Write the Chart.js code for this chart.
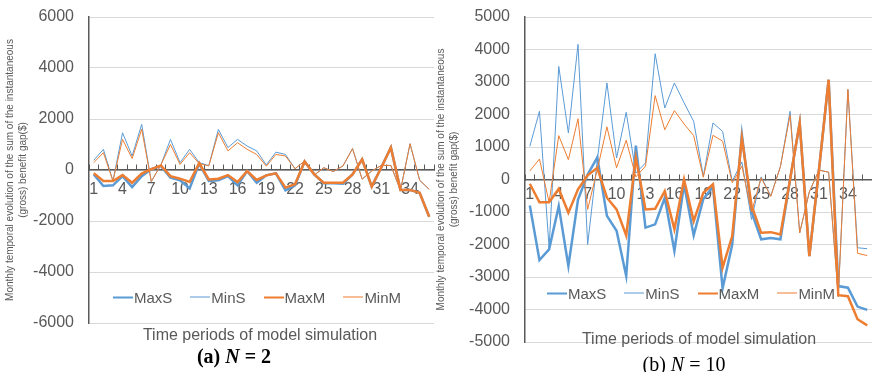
<!DOCTYPE html>
<html>
<head>
<meta charset="utf-8">
<script src="https://cdn.jsdelivr.net/npm/chart.js@4.4.1/dist/chart.umd.min.js"></script>
<style>
    html, body { margin: 0; padding: 0; background: #fff; }
    #wrap { position: relative; width: 872px; height: 372px; overflow: hidden; font-family: "Liberation Sans", Arial, sans-serif; }
    canvas { position: absolute; top: 0; }
    #chartA { left: 0; }
    #chartB { left: 430px; }
    .txt { position: absolute; white-space: nowrap; line-height: 1; transform: translate(-50%, -50%); color: #595959; }
    .xtitle { font-size: 16px; }
    .caption { font-family: "Liberation Serif", "Times New Roman", serif; font-size: 20px; color: #000; }
    .legend { position: absolute; display: flex; align-items: center; font-size: 15px; color: #595959; transform: translateY(-50%); }
    .legend .item { display: flex; align-items: center; margin-right: 18px; }
    .legend .swatch { width: 20px; margin-right: 1px; }
</style>
</head>
<body>
<div id="wrap">
    <canvas id="chartA" width="440" height="372"></canvas>
    <canvas id="chartB" width="442" height="372"></canvas>

    <div class="txt xtitle" style="left:260px; top:335px;">Time periods of model simulation</div>
    <div class="txt xtitle" style="left:699px; top:339px;">Time periods of model simulation</div>

    <div class="txt caption" style="left:234px; top:356px;"><b>(a) <i>N</i> = 2</b></div>
    <div class="txt caption" style="left:684px; top:364px;">(b) <i>N</i> = 10</div>

    <div class="legend" id="legendA" style="left:113px; top:297px;"></div>
    <div class="legend" id="legendB" style="left:547px; top:293px;"></div>
</div>

<script>
// periodos de simulacion (eje x)
const periods = ['1', '2', '3', '4', '5', '6', '7', '8', '9', '10', '11', '12',
    '13', '14', '15', '16', '17', '18', '19', '20', '21', '22', '23', '24',
    '25', '26', '27', '28', '29', '30', '31', '32', '33', '34', '35', '36'];

const seriesNames = ['MaxS', 'MinS', 'MaxM', 'MinM'];

// (a) N = 2
const maxS_A = [-170, -630, -600, -240, -670, -240, 30, 160, -300, -400, -720, 250,
    -430, -400, -240, -600, -40, -500, -210, -130, -800, -600, 330, -170,
    -520, -520, -540, -170, 420, -650, 100, 880, -780, -780, -890, -1830];
const minS_A = [380, 810, -430, 1460, 550, 1790, -450, 200, 1200, 290, 810, 290,
    170, 1590, 880, 1200, 940, 750, 200, 700, 610, 50, 350, -200,
    90, -60, 160, 840, -360, -40, 180, 180, -800, 1030, -400, -760];
const maxM_A = [-130, -430, -430, -200, -500, -140, 30, 180, -240, -340, -470, 270,
    -370, -340, -200, -470, -40, -390, -210, -130, -690, -560, 330, -170,
    -500, -500, -500, -170, 420, -650, 100, 880, -780, -780, -890, -1830];
const minM_A = [290, 680, -430, 1200, 450, 1600, -450, 200, 1000, 220, 680, 250,
    160, 1460, 750, 1070, 810, 610, 150, 610, 550, 50, 350, -200,
    90, -60, 160, 840, -360, -40, 180, 180, -800, 1030, -400, -760];

// (b) N = 10
const maxS_B = [-800, -2480, -2150, -820, -2660, -620, 150, 680, -1120, -1580, -2970, 1040,
    -1480, -1380, -560, -2200, -150, -1720, -600, -220, -3350, -2000, 1380, -1000,
    -1840, -1800, -1840, 0, 1740, -2360, 300, 3070, -3280, -3330, -3910, -4010];
const minS_B = [1020, 2100, -2100, 3480, 1430, 4160, -2000, 600, 2970, 660, 2070, 200,
    510, 3870, 2200, 2970, 2360, 1790, 100, 1740, 1480, -50, 540, -1230,
    80, -500, 400, 2100, -1640, -380, 290, 225, -3600, 2770, -2100, -2130];
const maxM_B = [-130, -700, -700, -290, -1020, -300, 130, 360, -560, -920, -1720, 670,
    -920, -900, -360, -1530, 0, -1280, -410, -150, -2710, -1740, 1280, -800,
    -1640, -1620, -1690, 0, 1740, -2360, 300, 3070, -3560, -3590, -4300, -4490];
const minM_B = [260, 630, -700, 1350, 610, 1870, -920, 300, 1620, 360, 1210, 80,
    410, 2580, 1530, 2120, 1710, 1350, 70, 1360, 1180, -100, 410, -1000,
    50, -520, 400, 1980, -1640, -380, 290, 225, -3600, 2770, -2270, -2340];

const yTitle = ['Monthly temporal evolution of the sum of the instantaneous', '(gross) benefit gap($)'];

// estilos por serie (mismo orden que seriesNames)
const lineStyles = [
    { color: '#5b9bd5', width: 2.5, order: 4 },
    { color: '#5b9bd5', width: 1, order: 3 },
    { color: '#ed7d31', width: 2.5, order: 2 },
    { color: '#ed7d31', width: 1, order: 1 }
];

const FONT = '"Liberation Sans", Arial, sans-serif';
const GREY = '#595959';

function buildChart(canvasId, seriesData, yMin, yMax, yStep, layout) {
    const datasets = seriesData.map((values, i) => ({
        label: seriesNames[i],
        data: values,
        borderColor: lineStyles[i].color,
        backgroundColor: lineStyles[i].color,
        borderWidth: lineStyles[i].width,
        order: lineStyles[i].order,
        pointRadius: 0,
        tension: 0,
        fill: false
    }));

    return new Chart(document.getElementById(canvasId), {
        type: 'line',
        data: { labels: periods, datasets: datasets },
        options: {
            responsive: false,
            animation: false,
            devicePixelRatio: 1,
            layout: { padding: layout.padding },
            plugins: {
                legend: { display: false },
                tooltip: { enabled: false }
            },
            scales: {
                x: {
                    type: 'category',
                    offset: true,
                    position: { y: 0 },
                    afterFit: (scale) => {
                        // el area del grafico la fija solo layout.padding
                        scale.height = 0;
                        scale.paddingLeft = 0;
                        scale.paddingRight = 0;
                    },
                    border: { display: true, color: GREY, width: 1.5 },
                    grid: {
                        display: true,
                        offset: true,
                        drawOnChartArea: false,
                        drawTicks: true,
                        tickLength: -6, // marcas hacia arriba como en Excel
                        color: GREY,
                        lineWidth: 1
                    },
                    ticks: {
                        autoSkip: false,
                        maxRotation: 0,
                        minRotation: 0,
                        padding: layout.xPad,
                        color: GREY,
                        font: { family: FONT, size: 16 },
                        callback: (value, index) => index % 3 === 0 ? periods[index] : ''
                    }
                },
                y: {
                    min: yMin,
                    max: yMax,
                    afterFit: (scale) => {
                        scale.width = layout.yWidth;
                        scale.paddingTop = 0;
                        scale.paddingBottom = 0;
                    },
                    border: { display: true, color: GREY, width: 1.5 },
                    grid: { color: '#d9d9d9', lineWidth: 1, drawTicks: false },
                    ticks: {
                        stepSize: yStep,
                        padding: 15,
                        color: GREY,
                        font: { family: FONT, size: 16 },
                        callback: (value) => String(value)
                    },
                    title: {
                        display: true,
                        text: yTitle,
                        color: GREY,
                        font: { family: FONT, size: 10, lineHeight: 1.25 },
                        padding: { top: layout.titlePad, bottom: 0 }
                    }
                }
            }
        }
    });
}

function buildLegend(elId) {
    const box = document.getElementById(elId);
    seriesNames.forEach((name, i) => {
        const item = document.createElement('div');
        item.className = 'item';
        const sw = document.createElement('div');
        sw.className = 'swatch';
        sw.style.borderTop = lineStyles[i].width + 'px solid ' + lineStyles[i].color;
        const label = document.createElement('span');
        label.textContent = name;
        item.appendChild(sw);
        item.appendChild(label);
        box.appendChild(item);
    });
}

buildChart('chartA', [maxS_A, minS_A, maxM_A, minM_A], -6000, 6000, 2000,
    { padding: { top: 17, right: 6, bottom: 49, left: 0 }, yWidth: 89, xPad: 16, titlePad: 4 });
buildChart('chartB', [maxS_B, minS_B, maxM_B, minM_B], -5000, 5000, 1000,
    { padding: { top: 17, right: 0, bottom: 30, left: 0 }, yWidth: 95, xPad: 11, titlePad: 5 });

buildLegend('legendA');
buildLegend('legendB');
</script>
</body>
</html>
